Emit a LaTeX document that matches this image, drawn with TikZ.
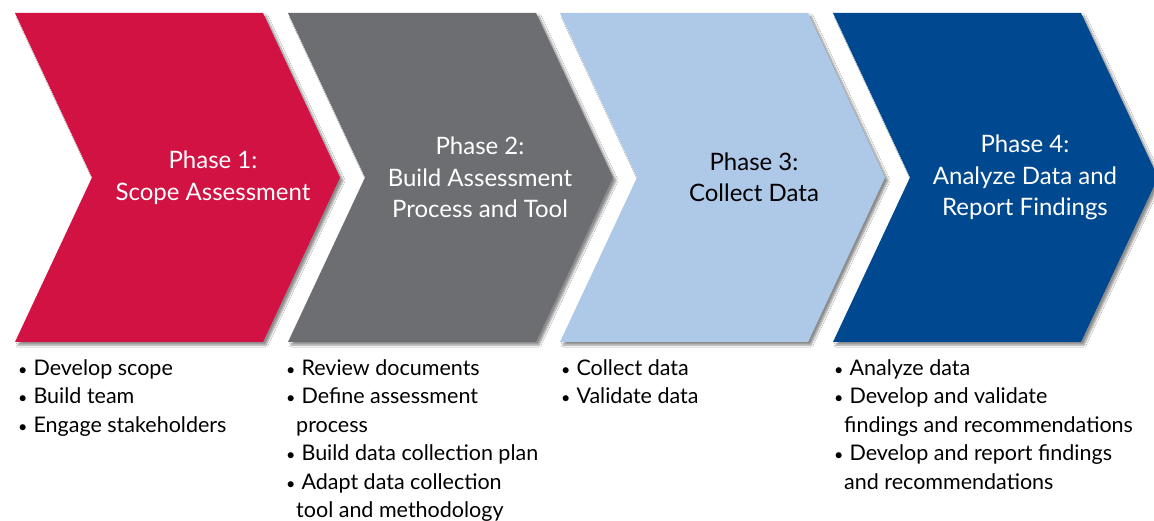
\documentclass[tikz,border=0pt]{standalone}
\usepackage{fontspec}
\setmainfont{Lato}
\usetikzlibrary{shadows.blur}
\definecolor{phaseRed}{HTML}{D11242}
\definecolor{phaseGray}{HTML}{6D6E72}
\definecolor{phaseLight}{HTML}{AEC8E8}
\definecolor{phaseBlue}{HTML}{004990}
\newcommand{\pitem}{\scalebox{0.75}{\textbullet}\hspace{6pt}}
\newcommand{\pcont}{\hspace{10pt}}
\tikzset{
  chev/.style={blur shadow={shadow xshift=3pt, shadow yshift=-3pt, shadow blur steps=6, shadow opacity=45}},
  ptitle/.style={align=center, text=white, inner sep=0pt, font=\fontsize{24}{31.5}\selectfont},
  plist/.style={anchor=north west, align=left, inner sep=0pt, font=\fontsize{21.5}{28.5}\selectfont},
}
\begin{document}
\begin{tikzpicture}[x=1pt, y=-1pt]
  \useasboundingbox[fill=white] (0,0) rectangle (1154,521);

  % the four chevrons
  \foreach \x/\col in {15/phaseRed, 288/phaseGray, 560/phaseLight, 833/phaseBlue}
    \fill[chev, \col] (\x,13) -- ++(248,0) -- ++(77,164.5) -- ++(-77,164.5)
      -- ++(-248,0) -- ++(77,-164.5) -- cycle;

  % phase titles
  \node[ptitle] (ph1) at (213,177.5) {Phase 1:\\Scope Assessment};
  \node[ptitle] (ph2) at (480,177.5) {Phase 2:\\Build Assessment\\Process and Tool};
  \node[ptitle, text=black] (ph3) at (754,177.5) {Phase 3:\\Collect Data};
  \node[ptitle] (ph4) at (1025,177.5) {Phase 4:\\Analyze Data and\\Report Findings};

  % task lists under the chevrons
  \node[plist] (ls1) at (18,359) {\pitem Develop scope\\\pitem Build team\\\pitem Engage stakeholders};
  \node[plist] (ls2) at (286,359) {\pitem Review documents\\\pitem Define assessment\\\pcont process\\
    \pitem Build data collection plan\\\pitem Adapt data collection\\\pcont tool and methodology};
  \node[plist] (ls3) at (561,359) {\pitem Collect data\\\pitem Validate data};
  \node[plist] (ls4) at (834,359) {\pitem Analyze data\\\pitem Develop and validate\\\pcont findings and recommendations\\
    \pitem Develop and report findings\\\pcont and recommendations};
\end{tikzpicture}
\end{document}
